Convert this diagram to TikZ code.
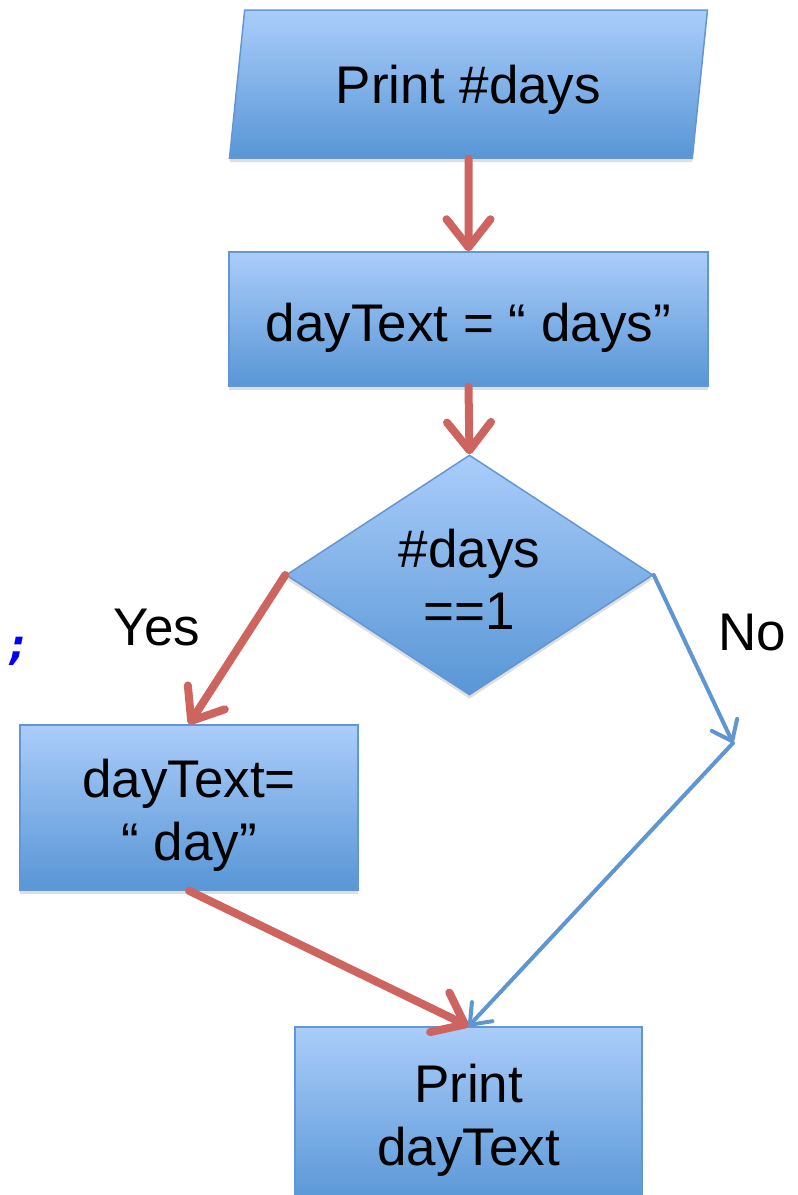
\documentclass[tikz,border=0pt]{standalone}
\usepackage{fontspec}
\setmainfont{Liberation Sans}
\newfontfamily\semifont{DejaVu Sans Mono}
\usetikzlibrary{shapes.geometric,arrows.meta,shadows}
\definecolor{boxtop}{RGB}{170,205,250}
\definecolor{boxbot}{RGB}{88,150,214}
\definecolor{boxline}{RGB}{100,150,210}
\definecolor{redarrow}{RGB}{205,100,95}
\definecolor{bluearrow}{RGB}{95,150,210}
\begin{document}
\begin{tikzpicture}[x=1pt,y=-1pt,
  shapebox/.style={draw=boxline, line width=1.5pt, top color=boxtop, bottom color=boxbot,
    font=\fontsize{53}{63}\selectfont, align=center, inner sep=0pt,
    drop shadow={shadow xshift=0pt, shadow yshift=-4pt, opacity=0.25}},
  rectbox/.style={shapebox, rectangle},
  lbl/.style={font=\fontsize{53}{64}\selectfont, inner sep=0pt, anchor=base},
  redarr/.style={draw=redarrow, line width=8pt, line cap=round, line join=round,
    -{Straight Barb[length=28pt, width=44pt, line cap=round, line join=round]}},
  bluearr/.style={draw=bluearrow, line width=4pt, line cap=round, line join=round,
    -{Straight Barb[length=18pt, width=28pt, line cap=round, line join=round]}}
]
\useasboundingbox (0,0) rectangle (798,1195);

\node[shapebox, trapezium, trapezium left angle=76.7, trapezium right angle=103.3,
  trapezium stretches=true, minimum width=479pt, minimum height=148pt,
  text height=38pt, text depth=0pt]
  (p1) at (468.5,84) {Print \#days};
\node[rectbox, minimum width=479pt, minimum height=134pt, text height=44pt, text depth=0pt]
  (r2) at (468.5,319) {dayText = “ days”};
\node[shapebox, diamond, aspect=1.53, minimum width=367pt, minimum height=240pt,
  text height=108pt, text depth=0pt, font=\fontsize{53}{62}\selectfont]
  (d) at (469.5,575) {\#days\\==1};
\node[rectbox, minimum width=338pt, minimum height=165pt, text height=105pt, text depth=0pt]
  (lr) at (189,807.5) {dayText=\\“ day”};
\node[rectbox, minimum width=347pt, minimum height=178pt, text height=98pt, text depth=0pt]
  (br) at (468.5,1116) {Print\\dayText};

\coordinate (c1) at (733,743);

\draw[redarr] (p1.south) -- (r2.north);
\draw[redarr] (r2.south) -- (d.north);
\draw[redarr] (d.west) -- (lr.north);
\draw[bluearr] (d.east) -- (c1);
\draw[bluearr] (c1) -- (br.north);
\draw[redarr] (lr.south) -- (br.north);

\node[lbl] (yes) at (157,645) {Yes};
\node[lbl] (no) at (752,650) {No};
\node[text=blue, font=\semifont\bfseries\itshape\fontsize{43}{43}\selectfont, inner sep=0pt]
  (semi) at (18,651) {;};
\end{tikzpicture}
\end{document}
